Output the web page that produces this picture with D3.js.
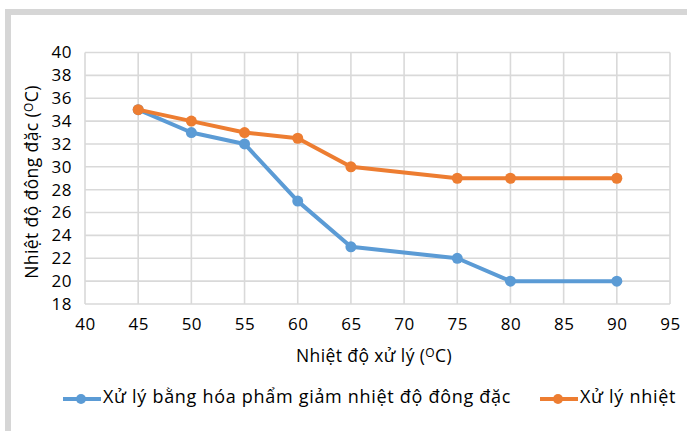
<!DOCTYPE html>
<html>
<head>
<meta charset="utf-8">
<script src="https://cdn.jsdelivr.net/npm/d3@7"></script>
<style>
  html, body { margin: 0; padding: 0; background: #fff; }
  svg { display: block; font-family: "Open Sans", "Noto Sans", sans-serif; }
</style>
</head>
<body>
<svg id="chart" width="687" height="431"></svg>
<script>
// Treatment temperatures (°C) and the resulting pour points (°C)
const temps = [45, 50, 55, 60, 65, 75, 80, 90];
const chemical = [35, 33, 32, 27, 23, 22, 20, 20];
const thermal = [35, 34, 33, 32.5, 30, 29, 29, 29];
const seriesNames = ["Xử lý bằng hóa phẩm giảm nhiệt độ đông đặc", "Xử lý nhiệt"];
const seriesColors = ["#5B9BD5", "#ED7D31"];
const xTicks = [40, 45, 50, 55, 60, 65, 70, 75, 80, 85, 90, 95];
const yTicks = [18, 20, 22, 24, 26, 28, 30, 32, 34, 36, 38, 40];

const svg = d3.select("#chart");

// outer frame
svg.append("rect").attr("x", 8).attr("y", 12).attr("width", 700).attr("height", 440)
  .attr("fill", "none").attr("stroke", "#d6d6d6").attr("stroke-width", 6);

const plot = { left: 85, right: 670, top: 52.5, bottom: 304 };
const x = d3.scaleLinear().domain([40, 95]).range([plot.left, plot.right]);
const y = d3.scaleLinear().domain([18, 40]).range([plot.bottom, plot.top]);

// grid
const grid = svg.append("g").attr("stroke", "#d9d9d9").attr("stroke-width", 1.6);
grid.selectAll("line.v").data(xTicks).join("line")
  .attr("x1", d => x(d)).attr("x2", d => x(d))
  .attr("y1", plot.top).attr("y2", plot.bottom);
grid.selectAll("line.h").data(yTicks).join("line")
  .attr("x1", plot.left).attr("x2", plot.right)
  .attr("y1", d => y(d)).attr("y2", d => y(d));

// axes (labels only)
const xAxis = svg.append("g").attr("transform", `translate(0,${plot.bottom})`)
  .call(d3.axisBottom(x).tickValues(xTicks).tickSize(0).tickPadding(14));
const yAxis = svg.append("g").attr("transform", `translate(${plot.left},0)`)
  .call(d3.axisLeft(y).tickValues(yTicks).tickSize(0).tickPadding(13));
[xAxis, yAxis].forEach(a => {
  a.select(".domain").remove();
  a.selectAll("text").attr("font-size", 17).attr("letter-spacing", 0.5).attr("fill", "#000")
    .attr("font-family", "'Open Sans', sans-serif");
});

// series
const series = [chemical, thermal];
const line = d3.line().x(d => x(d[0])).y(d => y(d[1]));
series.forEach((vals, i) => {
  const pts = temps.map((t, k) => [t, vals[k]]);
  const g = svg.append("g");
  g.append("path").datum(pts).attr("d", line)
    .attr("fill", "none").attr("stroke", seriesColors[i])
    .attr("stroke-width", 4).attr("stroke-linejoin", "round");
  g.selectAll("circle").data(pts).join("circle")
    .attr("cx", d => x(d[0])).attr("cy", d => y(d[1])).attr("r", 5.5)
    .attr("fill", seriesColors[i]);
});

// axis titles
function degreeTitle(sel, label) {
  sel.append("tspan").text(label + " (");
  sel.append("tspan").attr("font-size", 12).attr("dy", -5).text("O");
  sel.append("tspan").attr("dy", 5).text("C)");
}
const xt = svg.append("text").attr("x", 374).attr("y", 362)
  .attr("text-anchor", "middle").attr("font-size", 17.5).attr("letter-spacing", 0.4)
  .attr("fill", "#000");
degreeTitle(xt, "Nhiệt độ xử lý");

const yt = svg.append("text")
  .attr("transform", "translate(38,182) rotate(-90)")
  .attr("text-anchor", "middle").attr("font-size", 17.5).attr("letter-spacing", 0.4)
  .attr("fill", "#000");
degreeTitle(yt, "Nhiệt độ đông đặc");

// legend
const legendX = [63, 540];
seriesNames.forEach((name, i) => {
  const g = svg.append("g").attr("transform", `translate(${legendX[i]},399)`);
  g.append("line").attr("x1", 0).attr("x2", 38).attr("y1", 0).attr("y2", 0)
    .attr("stroke", seriesColors[i]).attr("stroke-width", 4);
  g.append("circle").attr("cx", 18).attr("cy", 0).attr("r", 5).attr("fill", seriesColors[i]);
  g.append("text").attr("x", 40).attr("y", 4).attr("font-size", 18)
    .attr("letter-spacing", 0.7).attr("fill", "#000")
    .text(name);
});
</script>
</body>
</html>
